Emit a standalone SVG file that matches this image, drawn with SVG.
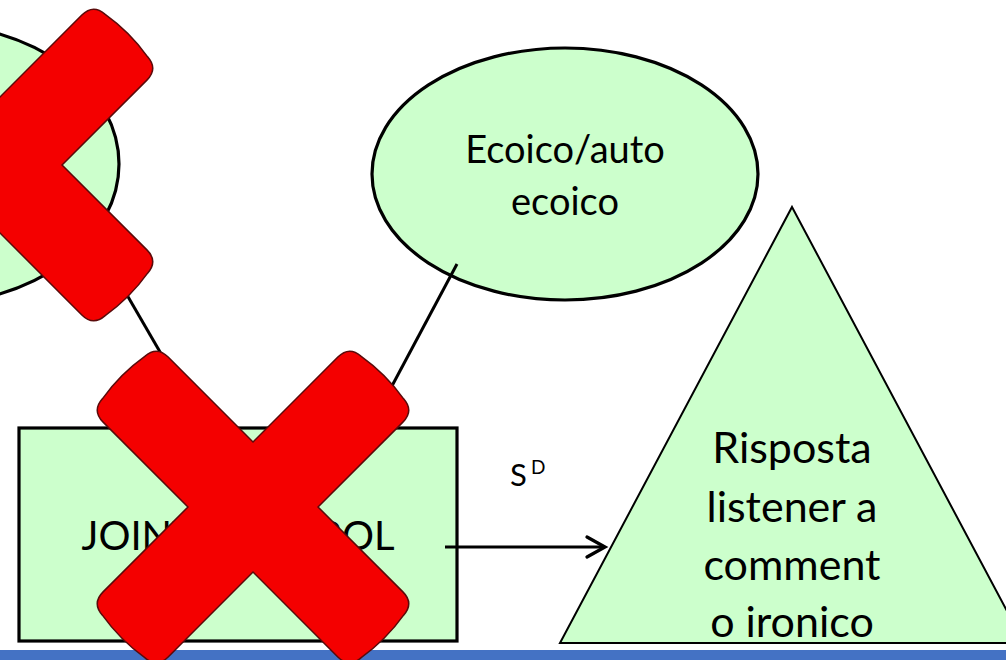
<svg xmlns="http://www.w3.org/2000/svg" xmlns:xlink="http://www.w3.org/1999/xlink" width="1006" height="660" viewBox="0 0 1006 660">
<style>
.node{fill:#CCFFCC;stroke:#000;stroke-width:3.2}
.tri{fill:#CCFFCC;stroke:#000;stroke-width:2}
.lbl{font-family:Lato,"Liberation Sans",sans-serif;fill:#000;text-anchor:middle}
.conn{stroke:#000;stroke-width:3;fill:none}
.cross{fill:#F40000;stroke:#5a0a0a;stroke-width:1.5}
</style>
<defs>
<marker id="open" markerUnits="userSpaceOnUse" markerWidth="24" markerHeight="26" refX="20" refY="12" orient="auto" overflow="visible">
<path d="M2,2 L20,12 L2,22" fill="none" stroke="#000" stroke-width="3.3" stroke-linecap="round" stroke-linejoin="miter"/>
</marker>
<path id="xmark" d="M -46,-46 L -46,-166 Q -46,-182 -30,-183 Q 0,-188 30,-183 Q 46,-182 46,-166 L 46,-46 L 166,-46 Q 182,-46 183,-30 Q 188,0 183,30 Q 182,46 166,46 L 46,46 L 46,166 Q 46,182 30,183 Q 0,188 -30,183 Q -46,182 -46,166 L -46,46 L -166,46 Q -182,46 -183,30 Q -188,0 -183,-30 Q -182,-46 -166,-46 Z"/>
</defs>
<rect x="0" y="0" width="1006" height="660" fill="#fff"/>
<g id="node-left-ellipse">
<ellipse class="node" cx="-71" cy="164" rx="190" ry="140"/>
</g>
<g id="node-ecoico">
<ellipse class="node" cx="565" cy="174" rx="193" ry="126"/>
<text class="lbl" font-size="38" x="565" y="163">Ecoico/auto</text>
<text class="lbl" font-size="38" x="565" y="215">ecoico</text>
</g>
<g id="node-joint-control">
<rect class="node" x="19" y="428" width="438" height="213"/>
<text class="lbl" font-size="40" x="238" y="550">JOINT CONTROL</text>
</g>
<g id="node-risposta">
<polygon class="tri" points="792,207 1024,643 560,643"/>
<text class="lbl" font-size="43" x="792" y="463">Risposta</text>
<text class="lbl" font-size="43" x="792" y="522">listener a</text>
<text class="lbl" font-size="43" x="792" y="580">comment</text>
<text class="lbl" font-size="43" x="792" y="637">o ironico</text>
</g>
<g id="connectors">
<line class="conn" x1="116" y1="276" x2="196" y2="414"/>
<line class="conn" x1="457" y1="264" x2="377" y2="414"/>
<line class="conn" x1="445" y1="547" x2="605" y2="547" marker-end="url(#open)"/>
<text font-family="Lato,'Liberation Sans',sans-serif" font-size="31" x="510" y="486">S</text>
<text font-family="Lato,'Liberation Sans',sans-serif" font-size="19" x="531" y="474">D</text>
</g>
<rect id="bottom-bar" x="0" y="650" width="1006" height="10" fill="#4472C4"/>
<g id="cross-left">
<use xlink:href="#xmark" class="cross" transform="translate(-3,165) rotate(45)"/>
</g>
<g id="cross-joint">
<use xlink:href="#xmark" class="cross" transform="translate(253,507) rotate(45)"/>
</g>
</svg>
